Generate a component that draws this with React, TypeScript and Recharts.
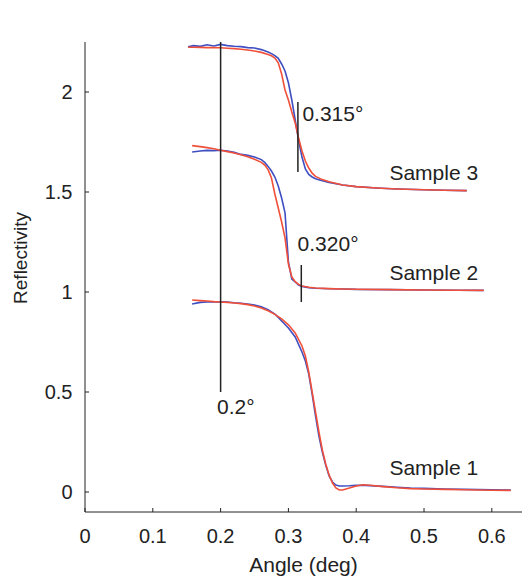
import React from 'react';
import {
  LineChart,
  Line,
  XAxis,
  YAxis,
  ReferenceLine,
  ReferenceDot,
} from 'recharts';

// angles (deg) and reflectivity, measured (blue) vs fitted (red)
const sample1Angle = [0.158, 0.17, 0.18, 0.19, 0.2, 0.21, 0.22, 0.23, 0.24, 0.25, 0.26, 0.27, 0.28, 0.29, 0.3, 0.31, 0.32, 0.325, 0.33, 0.335, 0.34, 0.345, 0.35, 0.355, 0.36, 0.365, 0.37, 0.375, 0.38, 0.39, 0.4, 0.41, 0.42, 0.44, 0.46, 0.48, 0.5, 0.53, 0.56, 0.6, 0.628];
const sample1Measured = [0.94, 0.948, 0.95, 0.95, 0.951, 0.95, 0.946, 0.944, 0.94, 0.935, 0.926, 0.912, 0.89, 0.855, 0.82, 0.775, 0.7, 0.655, 0.59, 0.49, 0.38, 0.28, 0.2, 0.135, 0.08, 0.05, 0.035, 0.03, 0.03, 0.031, 0.033, 0.034, 0.032, 0.028, 0.024, 0.02, 0.018, 0.015, 0.013, 0.011, 0.01];
const sample1Fit = [0.96, 0.957, 0.955, 0.952, 0.95, 0.948, 0.945, 0.942, 0.937, 0.93, 0.92, 0.906, 0.888, 0.866, 0.836, 0.795, 0.73, 0.68, 0.6, 0.5, 0.4, 0.3, 0.21, 0.14, 0.085, 0.045, 0.02, 0.01, 0.01, 0.02, 0.03, 0.036, 0.034, 0.027, 0.021, 0.017, 0.015, 0.013, 0.011, 0.009, 0.008];

const sample2Angle = [0.158, 0.17, 0.18, 0.19, 0.2, 0.21, 0.22, 0.23, 0.24, 0.25, 0.26, 0.265, 0.27, 0.275, 0.28, 0.285, 0.29, 0.295, 0.3, 0.305, 0.31, 0.315, 0.32, 0.33, 0.34, 0.36, 0.38, 0.4, 0.45, 0.5, 0.55, 0.588];
const sample2Measured = [1.7, 1.705, 1.708, 1.707, 1.709, 1.705, 1.698, 1.688, 1.683, 1.675, 1.662, 1.648, 1.628, 1.605, 1.575, 1.53, 1.47, 1.396, 1.15, 1.065, 1.05, 1.035, 1.028, 1.022, 1.019, 1.016, 1.015, 1.013, 1.012, 1.01, 1.009, 1.008];
const sample2Fit = [1.732, 1.727, 1.722, 1.716, 1.709, 1.702, 1.695, 1.686, 1.676, 1.664, 1.648, 1.635, 1.612, 1.57, 1.49, 1.42, 1.35, 1.27, 1.14, 1.075, 1.052, 1.038, 1.03, 1.024, 1.02, 1.017, 1.015, 1.014, 1.012, 1.01, 1.009, 1.008];

const sample3Angle = [0.152, 0.16, 0.17, 0.18, 0.19, 0.2, 0.21, 0.22, 0.23, 0.24, 0.25, 0.26, 0.27, 0.275, 0.28, 0.285, 0.29, 0.295, 0.3, 0.305, 0.31, 0.315, 0.32, 0.325, 0.33, 0.335, 0.34, 0.35, 0.36, 0.38, 0.4, 0.43, 0.46, 0.5, 0.53, 0.563];
const sample3Measured = [2.226, 2.232, 2.228, 2.236, 2.23, 2.238, 2.232, 2.229, 2.227, 2.222, 2.22, 2.212, 2.2, 2.192, 2.182, 2.168, 2.14, 2.105, 2.046, 1.96, 1.86, 1.76, 1.675, 1.615, 1.588, 1.575, 1.566, 1.556, 1.548, 1.535, 1.527, 1.52, 1.515, 1.511, 1.509, 1.507];
const sample3Fit = [2.224, 2.224, 2.223, 2.222, 2.222, 2.221, 2.219, 2.217, 2.214, 2.21, 2.205, 2.198, 2.188, 2.181, 2.17, 2.146, 2.09, 2.01, 1.96, 1.9, 1.845, 1.77, 1.705, 1.655, 1.62, 1.594, 1.578, 1.562, 1.551, 1.535, 1.527, 1.52, 1.515, 1.511, 1.509, 1.507];

const xTicks = [0, 0.1, 0.2, 0.3, 0.4, 0.5, 0.6];
const yTicks = [0, 0.5, 1, 1.5, 2];

// critical angle markers: angle, bottom, top of the drawn segment
const markers = [
  { angle: 0.2, from: 0.5, to: 2.25, text: '0.2°' },
  { angle: 0.314, from: 1.6, to: 1.95, text: '0.315°' },
  { angle: 0.319, from: 0.95, to: 1.135, text: '0.320°' },
];

const sampleLabels = [
  { angle: 0.449, value: 1.56, text: 'Sample 3' },
  { angle: 0.449, value: 1.06, text: 'Sample 2' },
  { angle: 0.449, value: 0.085, text: 'Sample 1' },
];

const zip = (a: number[], r: number[]) => a.map((angle, i) => ({ angle, r: r[i] }));

const series = [
  { key: 's1m', data: zip(sample1Angle, sample1Measured), color: '#3f4fc2' },
  { key: 's1f', data: zip(sample1Angle, sample1Fit), color: '#f0503a' },
  { key: 's2m', data: zip(sample2Angle, sample2Measured), color: '#3f4fc2' },
  { key: 's2f', data: zip(sample2Angle, sample2Fit), color: '#f0503a' },
  { key: 's3m', data: zip(sample3Angle, sample3Measured), color: '#3f4fc2' },
  { key: 's3f', data: zip(sample3Angle, sample3Fit), color: '#f0503a' },
];

const FONT = '"Liberation Sans", Arial, Helvetica, sans-serif';
const INK = '#222';

// label offsets relative to the top of each marker segment
const markerOffsets: Record<string, [number, number]> = {
  '0.2°': [-3.5, 372],
  '0.315°': [4.5, 19],
  '0.320°': [-3.7, -14.5],
};

export default function App() {
  return (
    <div style={{ position: 'absolute', left: 0, top: 0 }}>
      <LineChart width={522} height={577} margin={{ top: 42, right: 0, bottom: 0, left: 0 }}>
        <XAxis
          dataKey="angle"
          type="number"
          domain={[0, 0.6445]}
          allowDataOverflow
          ticks={xTicks}
          tickSize={-4}
          tickMargin={21}
          height={65}
          stroke={INK}
          tick={{ fill: INK, fontSize: 20, fontFamily: FONT }}
          label={{
            content: ({ viewBox }: any) => (
              <text
                x={viewBox.x + viewBox.width / 2}
                y={viewBox.y + 60}
                textAnchor="middle"
                fontSize={21}
                fontFamily={FONT}
                fill={INK}
              >
                Angle (deg)
              </text>
            ),
          }}
        />
        <YAxis
          type="number"
          domain={[-0.1, 2.25]}
          allowDataOverflow
          ticks={yTicks}
          tickSize={-4}
          tickMargin={16.5}
          width={85}
          stroke={INK}
          tick={{ fill: INK, fontSize: 20, fontFamily: FONT }}
          label={{
            content: ({ viewBox }: any) => {
              const cx = viewBox.x + 20;
              const cy = viewBox.y + 216;
              return (
                <text
                  x={cx}
                  y={cy}
                  transform={`rotate(-90 ${cx} ${cy})`}
                  textAnchor="middle"
                  dominantBaseline="central"
                  fontSize={19}
                  fontFamily={FONT}
                  fill={INK}
                >
                  Reflectivity
                </text>
              );
            },
          }}
        />
        <YAxis
          yAxisId="right"
          orientation="right"
          type="number"
          domain={[-0.1, 2.25]}
          ticks={yTicks}
          tickSize={-4}
          width={0}
          axisLine={false}
          stroke={INK}
          tickFormatter={() => ''}
        />
        {series.map((s) => (
          <Line
            key={s.key}
            data={s.data}
            dataKey="r"
            type="linear"
            stroke={s.color}
            strokeWidth={1.6}
            dot={false}
            isAnimationActive={false}
          />
        ))}
        {markers.map((m) => (
          <ReferenceLine
            key={m.text}
            segment={[
              { x: m.angle, y: m.from },
              { x: m.angle, y: m.to },
            ]}
            stroke={INK}
            strokeWidth={1.5}
            label={{
              content: ({ viewBox }: any) => {
                const [dx, dy] = markerOffsets[m.text];
                return (
                  <text x={viewBox.x + dx} y={viewBox.y + dy} fontSize={21} fontFamily={FONT} fill={INK}>
                    {m.text}
                  </text>
                );
              },
            }}
          />
        ))}
        {sampleLabels.map((l) => (
          <ReferenceDot
            key={l.text}
            x={l.angle}
            y={l.value}
            r={1}
            fill="none"
            stroke="none"
            label={{
              content: ({ viewBox }: any) => (
                <text x={viewBox.x + 1} y={viewBox.y + 1} fontSize={21} fontFamily={FONT} fill={INK}>
                  {l.text}
                </text>
              ),
            }}
          />
        ))}
      </LineChart>
    </div>
  );
}
